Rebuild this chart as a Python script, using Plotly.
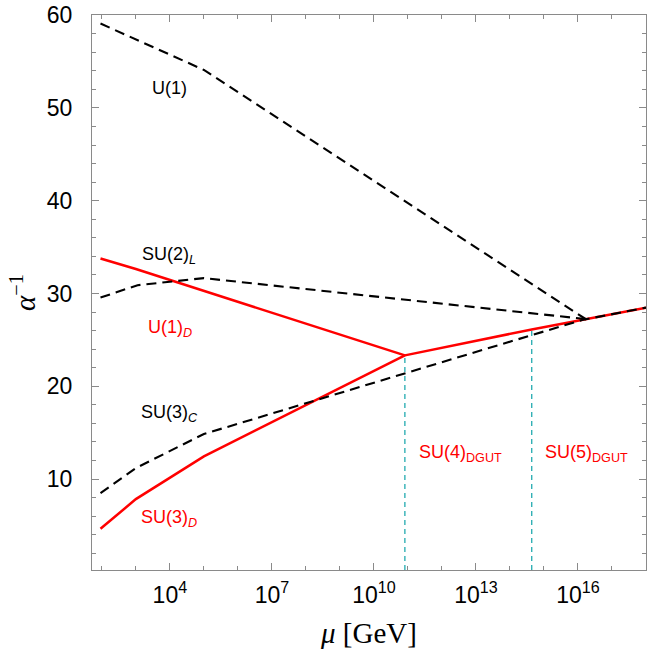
import numpy as np
import plotly.graph_objects as go

# log10(mu / GeV) breakpoints and inverse couplings
u1_x = [1.96, 5.0, 16.35]
u1_y = [59.1, 54.1, 26.95]

su2_x = [1.96, 3.05, 5.0, 16.35]
su2_y = [29.56, 30.9, 31.66, 27.2]

su3c_x = [1.96, 3.0, 5.0, 16.12, 18.0]
su3c_y = [8.49, 11.19, 14.86, 27.15, 28.48]

u1d_x = [1.96, 3.0, 10.91]
u1d_y = [33.77, 32.64, 23.33]

su3d_x = [1.96, 3.0, 5.0, 10.91]
su3d_y = [4.64, 7.84, 12.45, 23.33]

dgut_x = [10.91, 14.64, 18.0]
dgut_y = [23.33, 26.13, 28.48]

thr_x = [10.91, 14.64]
thr_top = [23.33, 26.13]
y_bottom = 0.2

tick_exp = [4, 7, 10, 13, 16]
minor_exp = [2, 3, 5, 6, 8, 9, 11, 12, 14, 15, 17, 18]
y_ticks = [10, 20, 30, 40, 50, 60]

labels = [
    ("U(1)", 4.0, 52.1, "black"),
    ("SU(2)<sub><i>L</i></sub>", 3.97, 34.1, "black"),
    ("U(1)<sub><i>D</i></sub>", 4.0, 26.2, "red"),
    ("SU(3)<sub><i>C</i></sub>", 3.98, 17.1, "black"),
    ("SU(3)<sub><i>D</i></sub>", 3.98, 5.75, "red"),
    ("SU(4)<sub>DGUT</sub>", 12.56, 12.78, "red"),
    ("SU(5)<sub>DGUT</sub>", 16.25, 12.78, "red"),
]

def p(xs):
    return [10 ** v for v in xs]

fig = go.Figure()
teal = "#22AAB0"
for xv, top in zip(thr_x, thr_top):
    fig.add_trace(go.Scatter(x=p([xv, xv]), y=[y_bottom, top], mode="lines",
                             line=dict(color=teal, width=1.3, dash="5px,4px"),
                             showlegend=False, hoverinfo="skip"))

blk = dict(color="black", width=2.1, dash="10px,6px")
red = dict(color="#FF0000", width=2.5)
fig.add_trace(go.Scatter(x=p(dgut_x), y=dgut_y, mode="lines", line=red, showlegend=False))
fig.add_trace(go.Scatter(x=p(u1d_x), y=u1d_y, mode="lines", line=red, showlegend=False))
fig.add_trace(go.Scatter(x=p(su3d_x), y=su3d_y, mode="lines", line=red, showlegend=False))
for xs, ys in [(u1_x, u1_y), (su2_x, su2_y), (su3c_x, su3c_y)]:
    fig.add_trace(go.Scatter(x=p(xs), y=ys, mode="lines", line=blk, showlegend=False))

for txt, lx, ly, col in labels:
    fig.add_annotation(x=lx, y=ly, xref="x", yref="y", text=txt, showarrow=False,
                       font=dict(family="Liberation Sans", size=18, color=col))

frame = "#8a8a8a"
fig.update_layout(
    width=668, height=654,
    margin=dict(l=92, r=22, t=15, b=84, autoexpand=False),
    plot_bgcolor="white", paper_bgcolor="white",
    font=dict(family="Liberation Sans", color="black"),
    xaxis=dict(type="log", range=[1.71, 18.0], showgrid=False, zeroline=False,
               automargin=False, ticklabeloverflow="allow",
               showline=True, linecolor=frame, linewidth=1, mirror="allticks",
               ticks="inside", ticklen=7, tickcolor=frame,
               tickvals=p(tick_exp),
               ticktext=["10<sup>%d</sup>" % e for e in tick_exp],
               tickfont=dict(size=23, family="Liberation Sans"),
               ticklabelstandoff=4,
               minor=dict(tickvals=p(minor_exp), ticks="inside", ticklen=4, tickcolor=frame),
               title=dict(text="<i>μ</i> [GeV]", font=dict(family="Liberation Serif", size=29),
                          standoff=16)),
    yaxis=dict(range=[0.2, 60.02], showgrid=False, zeroline=False,
               automargin=False, ticklabeloverflow="allow",
               showline=True, linecolor=frame, linewidth=1, mirror="allticks",
               ticks="inside", ticklen=7, tickcolor=frame,
               tickvals=y_ticks,
               tickfont=dict(size=23, family="Liberation Sans"),
               ticklabelstandoff=14,
               minor=dict(dtick=2, tick0=0, ticks="inside", ticklen=4, tickcolor=frame),
               title=dict(text="<i>α</i><sup>−1</sup>", font=dict(family="Liberation Serif", size=29),
                          standoff=2)),
)
fig.write_html("out.html", config={"displayModeBar": False},
               post_script="document.body.style.margin='0';document.body.style.overflow='hidden';")
